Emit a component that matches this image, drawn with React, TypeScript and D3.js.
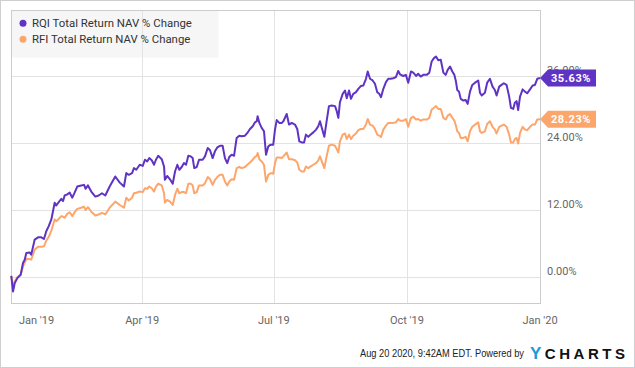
import React from "react";
import * as d3 from "d3";

// Days since 2019-01-01 (trading-day samples)
const dayOffsets = [
  -0.5, 0.7, 1.9, 3.7, 6.0, 7.6, 8.8, 9.9, 12.2, 13.3, 15.7, 18.0, 20.3, 22.1, 23.7, 25.4, 27.2,
  29.5, 30.6, 32.3, 34.1, 35.3, 36.4, 38.2, 39.9, 41.7, 43.3, 45.1, 47.9, 49.8, 50.9, 52.5, 54.8,
  57.6, 59.9, 62.2, 64.5, 67.5, 71.4, 74.5, 77.4, 79.0, 80.7, 83.0, 84.3, 85.9, 88.3, 90.4, 91.9,
  93.5, 94.9, 96.6, 98.2, 99.5, 101.1, 103.5, 105.1, 105.7, 107.3, 109.2, 111.1, 112.7, 114.3,
  115.7, 117.3, 118.9, 120.3, 121.9, 123.6, 124.9, 126.0, 127.7, 129.3, 131.8, 133.4, 135.3,
  136.9, 138.7, 140.3, 141.9, 143.8, 145.6, 147.2, 148.8, 150.2, 151.8, 153.5, 155.3, 157.1,
  158.8, 161.1, 162.7, 164.5, 166.4, 168.0, 169.2, 169.8, 171.0, 172.6, 174.2, 175.6, 177.2,
  178.8, 180.6, 181.8, 183.0, 184.8, 186.5, 187.6, 189.9, 191.5, 193.4, 195.6, 197.2, 198.6,
  200.3, 201.9, 203.2, 204.8, 206.5, 208.3, 210.2, 211.7, 212.9, 214.5, 215.9, 217.5, 219.1,
  221.0, 223.3, 224.5, 225.6, 226.7, 228.6, 230.2, 231.4, 233.0, 234.3, 235.9, 237.8, 239.4,
  241.1, 242.9, 244.7, 245.9, 247.5, 249.3, 250.9, 252.5, 253.9, 255.1, 256.7, 258.5, 260.1,
  261.8, 263.5, 265.4, 267.0, 268.2, 270.5, 272.3, 273.9, 275.8, 277.4, 279.3, 280.8, 282.5,
  284.3, 286.7, 288.5, 290.1, 291.7, 293.1, 294.7, 296.4, 298.2, 299.8, 301.2, 302.8, 304.4,
  305.8, 306.9, 307.8, 309.0, 310.2, 312.0, 313.6, 315.0, 316.6, 318.2, 320.1, 322.3, 323.5,
  324.7, 326.9, 328.5, 330.4, 332.2, 333.8, 335.0, 336.8, 338.4, 340.0, 341.9, 343.7, 344.9,
  346.5, 347.6, 348.8, 349.9, 351.2, 353.0, 354.6, 356.2, 358.1, 359.9, 361.5, 363.1, 365.0,
];

const rqiValues = [
  0.2, -2.6, -1.1, -0.2, 0.4, 2.5, 3.1, 4.3, 4.4, 4.0, 6.7, 7.1, 7.1, 6.8, 8.2, 9.1, 10.3,
  13.3, 12.8, 13.4, 14.0, 13.6, 14.6, 14.8, 15.1, 14.2, 15.1, 16.2, 16.4, 16.5, 15.8, 16.4, 15.3,
  14.4, 14.6, 15.0, 14.6, 16.2, 18.0, 16.9, 16.2, 18.6, 18.3, 18.6, 19.5, 19.2, 20.1, 19.9, 21.0,
  20.7, 21.3, 20.9, 20.1, 21.0, 21.7, 21.1, 19.8, 17.4, 18.1, 17.5, 16.7, 18.9, 20.1,
  19.2, 19.7, 20.4, 20.1, 21.7, 21.6, 21.3, 19.5, 19.7, 21.0, 21.0, 21.6, 23.1,
  22.7, 21.3, 22.5, 23.2, 23.5, 23.5, 21.3, 20.4, 21.5, 21.9, 21.7, 24.9, 25.3,
  25.2, 25.3, 25.8, 26.5, 27.0, 27.7, 27.9, 28.8, 27.6, 26.7, 26.1, 21.9, 23.4,
  23.7, 23.7, 26.4, 28.1, 27.6, 27.6, 27.9, 29.2, 27.3, 27.6, 27.3, 26.5, 24.3,
  24.1, 24.1, 25.5, 25.1, 25.5, 25.9, 26.4, 27.0, 27.9, 26.4, 25.1, 27.9, 30.6,
  30.7, 30.6, 29.7, 28.5, 31.3, 32.8, 33.4, 32.0, 33.4, 31.9, 32.8, 33.1, 33.7,
  34.2, 34.3, 35.5, 36.8, 35.5, 35.2, 34.6, 33.1, 32.8, 32.2, 33.7, 34.9, 35.5,
  35.5, 35.6, 35.8, 36.9, 36.3, 36.0, 36.2, 34.8, 36.8, 36.6, 36.0, 36.4, 35.9,
  36.2, 36.2, 36.6, 38.6, 39.2, 39.5, 38.8, 38.9, 36.6, 36.2, 37.1, 37.7, 36.8,
  36.2, 35.0, 33.5, 33.2, 31.9, 31.6, 31.7, 31.0, 33.2, 34.4, 34.8, 35.2, 33.0,
  32.5, 33.0, 34.8, 35.5, 34.1, 33.5, 32.5, 34.1, 34.4, 34.7, 34.4, 32.3, 30.3,
  30.1, 31.2, 31.5, 29.9, 32.3, 33.6, 33.2, 32.9, 33.6, 34.3, 34.4, 35.5, 35.63,
];

const rfiValues = [
  0.2, -1.7, -0.8, 0.0, 0.4, 1.9, 2.6, 3.2, 3.2, 3.1, 4.9, 5.4, 5.4, 5.5, 6.5, 7.2, 8.3,
  10.3, 10.0, 10.4, 10.9, 10.8, 10.6, 11.3, 11.6, 10.9, 11.6, 12.2, 12.4, 12.6, 12.0, 12.5, 11.7,
  11.0, 11.2, 11.5, 11.2, 12.4, 13.5, 12.9, 12.4, 14.2, 13.7, 14.2, 15.0, 15.1, 15.3, 15.2, 15.9,
  15.8, 16.2, 15.9, 15.3, 16.2, 16.7, 16.4, 15.0, 13.3, 13.8, 13.5, 12.9, 14.7, 15.8,
  15.0, 15.2, 15.2, 15.0, 16.7, 16.7, 16.4, 15.0, 15.2, 16.4, 16.4, 16.8, 17.9,
  17.5, 16.5, 17.4, 17.9, 18.3, 18.3, 17.1, 16.4, 17.1, 17.5, 17.4, 19.5, 19.7,
  19.5, 19.7, 20.1, 20.5, 21.0, 21.5, 21.7, 22.2, 21.1, 20.7, 20.1, 17.1, 18.3,
  18.6, 18.5, 20.4, 21.4, 21.4, 21.3, 21.6, 22.3, 21.1, 21.1, 20.9, 20.5, 19.2,
  18.9, 18.9, 19.8, 19.5, 19.8, 20.1, 20.4, 20.9, 21.6, 20.5, 19.5, 21.6, 23.5,
  23.7, 23.5, 22.9, 22.3, 24.3, 25.5, 25.7, 24.7, 25.5, 24.7, 25.3, 25.7, 26.3,
  26.5, 26.5, 27.3, 28.3, 27.3, 27.1, 26.5, 25.5, 25.3, 25.1, 26.4, 27.1, 27.6,
  27.6, 27.6, 27.7, 28.3, 28.0, 28.0, 28.3, 26.9, 28.5, 28.7, 28.2, 28.3, 28.0,
  28.2, 28.2, 28.5, 30.0, 30.3, 30.6, 30.1, 30.1, 28.5, 28.2, 28.9, 29.2, 28.5,
  28.0, 27.1, 26.1, 25.8, 24.9, 24.9, 25.1, 24.3, 26.1, 26.9, 27.3, 27.7, 26.1,
  25.8, 26.1, 27.4, 27.9, 26.9, 26.4, 25.7, 26.9, 27.1, 27.3, 26.9, 25.5, 24.1,
  24.1, 24.7, 24.9, 23.9, 25.8, 26.9, 26.4, 26.3, 26.9, 27.3, 27.3, 28.2, 28.23,
];

const seriesNames = ["RQI Total Return NAV % Change", "RFI Total Return NAV % Change"];
const seriesColors = ["#5f33c4", "#fda66c"];
const yTicks = [0, 12, 24, 36];
const xTickDates = ["2019-01-01", "2019-04-01", "2019-07-01", "2019-10-01", "2020-01-01"];
const xTickLabels = ["Jan '19", "Apr '19", "Jul '19", "Oct '19", "Jan '20"];
const footerText = "Aug 20 2020, 9:42AM EDT.  Powered by";

const W = 635;
const H = 368;
const plot = { left: 11.5, right: 540.5, top: 10.5, bottom: 303.5 };

export default function App() {
  const base = Date.UTC(2019, 0, 1);
  const dates = dayOffsets.map((d) => new Date(base + d * 86400000));
  const x = d3
    .scaleUtc()
    .domain([new Date(Date.UTC(2019, 0, 1)), new Date(Date.UTC(2020, 0, 1))])
    .range([12, 540]);
  const y = d3.scaleLinear().domain([-4.66, 47.64]).range([303, 11]);

  const series = [rqiValues, rfiValues];
  const line = d3
    .line<number>()
    .x((_, i) => x(dates[i]))
    .y((v) => y(v));

  const font = "Roboto, 'Noto Sans', sans-serif";
  const tickX = xTickDates.map((s) => x(new Date(s + "T00:00:00Z")));

  return (
    <svg
      width={W}
      height={H}
      style={{ position: "absolute", left: 0, top: 0, fontFamily: font }}
    >
      <rect x={0} y={0} width={W} height={H} fill="#fff" />
      <rect x={0.5} y={0.5} width={W - 1} height={H - 1} fill="none" stroke="#cfcfcf" />

      {/* legend background */}
      <rect x={plot.left} y={plot.top} width={207} height={47} fill="#f6f6f6" />

      {/* horizontal grid */}
      {yTicks.map((t) => (
        <line
          key={"g" + t}
          x1={plot.left}
          x2={plot.right}
          y1={Math.round(y(t)) + 0.5}
          y2={Math.round(y(t)) + 0.5}
          stroke="#e3e3e3"
        />
      ))}
      {/* vertical grid */}
      {tickX.slice(1, -1).map((tx, i) => (
        <line
          key={"v" + i}
          x1={Math.round(tx) + 0.5}
          x2={Math.round(tx) + 0.5}
          y1={plot.top}
          y2={plot.bottom}
          stroke="#e3e3e3"
        />
      ))}

      {/* plot frame */}
      <rect
        x={plot.left}
        y={plot.top}
        width={plot.right - plot.left}
        height={plot.bottom - plot.top}
        fill="none"
        stroke="#cccccc"
      />

      {/* lines */}
      {[1, 0].map((si) => (
        <path
          key={"s" + si}
          d={line(series[si]) || ""}
          fill="none"
          stroke={seriesColors[si]}
          strokeWidth={2}
          strokeLinejoin="round"
        />
      ))}

      {/* y labels */}
      {yTicks.map((t) => (
        <text key={"yl" + t} x={547} y={y(t) - 2} fontSize={11} fill="#666">
          {t.toFixed(2) + "%"}
        </text>
      ))}

      {/* end flags */}
      {series.map((vals, si) => {
        const v = vals[vals.length - 1];
        const cy = y(v);
        const h = 17;
        const x0 = 540;
        const x1 = 548;
        const x2 = 596;
        const d = `M${x0},${cy} L${x1},${cy - h / 2} L${x2},${cy - h / 2} L${x2},${cy + h / 2} L${x1},${cy + h / 2} Z`;
        return (
          <g key={"f" + si}>
            <path d={d} fill={seriesColors[si]} />
            <text
              x={(x1 + x2) / 2 - 1}
              y={cy + 4}
              textAnchor="middle"
              fontSize={11}
              fontWeight="bold"
              letterSpacing={0.6}
              fill="#fff"
            >
              {v.toFixed(2) + "%"}
            </text>
          </g>
        );
      })}

      {/* x labels */}
      {xTickLabels.map((lab, i) => (
        <text
          key={"xl" + i}
          x={i === 0 ? tickX[i] + 7 : tickX[i]}
          y={324}
          fontSize={11}
          fill="#666"
          textAnchor={i === 0 ? "start" : "middle"}
        >
          {lab}
        </text>
      ))}

      {/* legend */}
      {seriesNames.map((nm, i) => (
        <g key={"lg" + i}>
          <circle cx={23} cy={23.3 + i * 16} r={3.5} fill={seriesColors[i]} />
          <text x={32} y={27.3 + i * 16} fontSize={11.4} fill="#333">
            {nm}
          </text>
        </g>
      ))}

      {/* footer */}
      <text
        x={360}
        y={356.5}
        fontSize={11}
        fill="#222"
        fontFamily="'Liberation Sans', Arial, sans-serif"
        textLength={164}
        lengthAdjust="spacingAndGlyphs"
      >
        {footerText}
      </text>
      <text
        x={530}
        y={358.5}
        fontSize={15}
        fontWeight="bold"
        fontFamily="'Liberation Sans', Arial, sans-serif"
        textLength={95}
        lengthAdjust="spacing"
      >
        <tspan fill="#1a9ad6" fontSize={17}>Y</tspan>
        <tspan fill="#111">CHARTS</tspan>
      </text>
    </svg>
  );
}
